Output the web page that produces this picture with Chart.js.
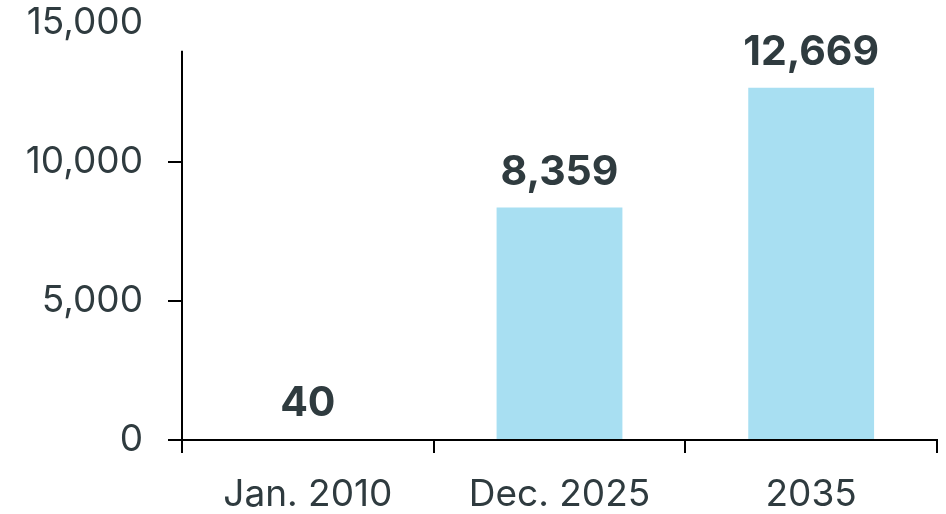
<!DOCTYPE html>
<html>
<head>
<meta charset="utf-8">
<script src="https://cdn.jsdelivr.net/npm/chart.js@4.4.1/dist/chart.umd.min.js"></script>
<style>
  html, body { margin: 0; padding: 0; background: #fff; }
  #wrap { width: 946px; height: 514px; }
</style>
</head>
<body>
<div id="wrap"><canvas id="barChart" width="946" height="514"></canvas></div>
<script>
// chart values
const categories = ['Jan. 2010', 'Dec. 2025', '2035'];
const values = [40, 8359, 12669];
const yTicks = [0, 5000, 10000, 15000];
const axisTop = 14000; // the drawn y axis line stops short of the top label

const textColor = '#2f3b3f';
const barColor = '#a8dff2';
const fontFamily = 'Inter, "Open Sans", sans-serif';

const fmt = (v) => v.toLocaleString('en-US');

// bold value labels above each bar
const valueLabels = {
    id: 'valueLabels',
    afterDatasetsDraw(chart) {
        const ctx = chart.ctx;
        const meta = chart.getDatasetMeta(0);
        ctx.save();
        ctx.fillStyle = textColor;
        ctx.font = 'bold 41px ' + fontFamily;
        ctx.textAlign = 'center';
        ctx.textBaseline = 'alphabetic';
        meta.data.forEach((bar, i) => {
            ctx.fillText(fmt(values[i]), bar.x, bar.y - 23);
        });
        ctx.restore();
    }
};

// y axis line that stops below the 15,000 label
const yAxisLine = {
    id: 'yAxisLine',
    afterDraw(chart) {
        const ctx = chart.ctx;
        const y = chart.scales.y;
        const x = chart.chartArea.left;
        ctx.save();
        ctx.strokeStyle = '#000';
        ctx.lineWidth = 2;
        ctx.beginPath();
        ctx.moveTo(x, y.getPixelForValue(0));
        ctx.lineTo(x, y.getPixelForValue(axisTop));
        ctx.stroke();
        ctx.restore();
    }
};

const ctx = document.getElementById('barChart').getContext('2d');
new Chart(ctx, {
    type: 'bar',
    data: {
        labels: categories,
        datasets: [{
            data: values,
            backgroundColor: barColor,
            borderWidth: 0,
            barPercentage: 0.5,
            categoryPercentage: 1.0
        }]
    },
    options: {
        responsive: false,
        animation: false,
        devicePixelRatio: 1,
        layout: { padding: { top: 23, right: 9, left: 0, bottom: 0 } },
        plugins: {
            legend: { display: false },
            tooltip: { enabled: false }
        },
        scales: {
            x: {
                offset: true,
                grid: {
                    offset: true,
                    drawOnChartArea: false,
                    drawTicks: true,
                    tickLength: 13,
                    color: '#000',
                    lineWidth: 2
                },
                border: { display: true, color: '#000', width: 2 },
                ticks: {
                    color: textColor,
                    font: { family: fontFamily, size: 37 },
                    padding: 20,
                    maxRotation: 0
                },
                afterFit(scale) { scale.height = 74; }
            },
            y: {
                min: 0,
                max: 15000,
                afterBuildTicks(scale) {
                    scale.ticks = yTicks.map((v) => ({ value: v }));
                },
                grid: {
                    drawOnChartArea: false,
                    drawTicks: true,
                    tickLength: 14,
                    lineWidth: 2,
                    color: (c) => (c.tick && c.tick.value > axisTop ? 'rgba(0,0,0,0)' : '#000')
                },
                border: { display: false },
                ticks: {
                    color: textColor,
                    font: { family: fontFamily, size: 37 },
                    padding: 25,
                    callback: (v) => fmt(v)
                },
                afterFit(scale) {
                    scale.width = 182;
                    scale.paddingTop = 0;
                    scale.paddingBottom = 0;
                }
            }
        }
    },
    plugins: [valueLabels, yAxisLine]
});
</script>
</body>
</html>
